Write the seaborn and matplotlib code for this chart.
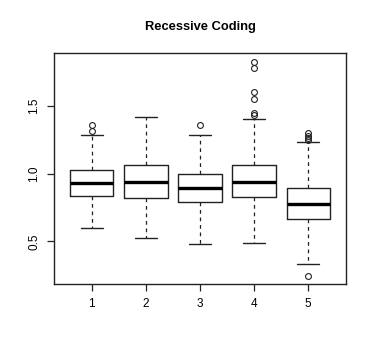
import matplotlib
matplotlib.use("Agg")
import matplotlib.pyplot as plt
import seaborn as sns

# five-number summaries (R style boxplot)
groups = ["1", "2", "3", "4", "5"]
whisker_low = [0.601, 0.523, 0.481, 0.486, 0.333]
q1 = [0.838, 0.823, 0.789, 0.830, 0.665]
medians = [0.929, 0.941, 0.892, 0.939, 0.778]
q3 = [1.027, 1.062, 0.995, 1.067, 0.892]
whisker_high = [1.286, 1.417, 1.288, 1.406, 1.234]
outliers = [
    [1.318, 1.360],
    [],
    [1.360],
    [1.434, 1.448, 1.549, 1.606, 1.783, 1.827],
    [0.245, 1.249, 1.260, 1.278, 1.303],
]

sns.set_style("white")
plt.rcParams["font.family"] = ["Liberation Sans", "DejaVu Sans"]
plt.rcParams["text.color"] = "black"
plt.rcParams["xtick.color"] = "black"
plt.rcParams["ytick.color"] = "black"

stats = []
for i, g in enumerate(groups):
    stats.append(dict(label=g, whislo=whisker_low[i], q1=q1[i], med=medians[i],
                      q3=q3[i], whishi=whisker_high[i], fliers=outliers[i]))

fig = plt.figure(figsize=(3.74, 3.52), dpi=100)
ax = fig.add_axes([54 / 374, 1 - 284 / 352, 292 / 374, 231 / 352])

ax.bxp(stats, positions=range(1, 6), widths=0.8, showfliers=True,
       patch_artist=False,
       boxprops=dict(color="#222222", linewidth=1.0),
       medianprops=dict(color="black", linewidth=2.4, solid_capstyle="butt"),
       whiskerprops=dict(color="#222222", linewidth=0.9, linestyle=(0, (3, 3))),
       capprops=dict(color="#222222", linewidth=1.0),
       capwidths=0.4,
       flierprops=dict(marker="o", markersize=4.2, markerfacecolor="none",
                       markeredgecolor="#222222", markeredgewidth=0.8))

ax.set_xlim(0.3, 5.7)
ax.set_ylim(0.185, 1.891)
ax.set_yticks([0.5, 1.0, 1.5])
ax.set_yticklabels(["0.5", "1.0", "1.5"], rotation=90, va="center")
ax.set_xticks(range(1, 6))
ax.set_xticklabels(groups)
ax.tick_params(axis="both", direction="out", length=5, width=0.9, color="#222222",
               labelsize=8.5, pad=5, left=True, bottom=True)
for s in ax.spines.values():
    s.set_color("#222222")
    s.set_linewidth(1.0)

fig.text(200 / 374, 1 - 27 / 352, "Recessive Coding", ha="center", va="center",
         fontsize=9.3, fontweight="bold", color="black")

fig.savefig("out.png", dpi=100, facecolor="white")
